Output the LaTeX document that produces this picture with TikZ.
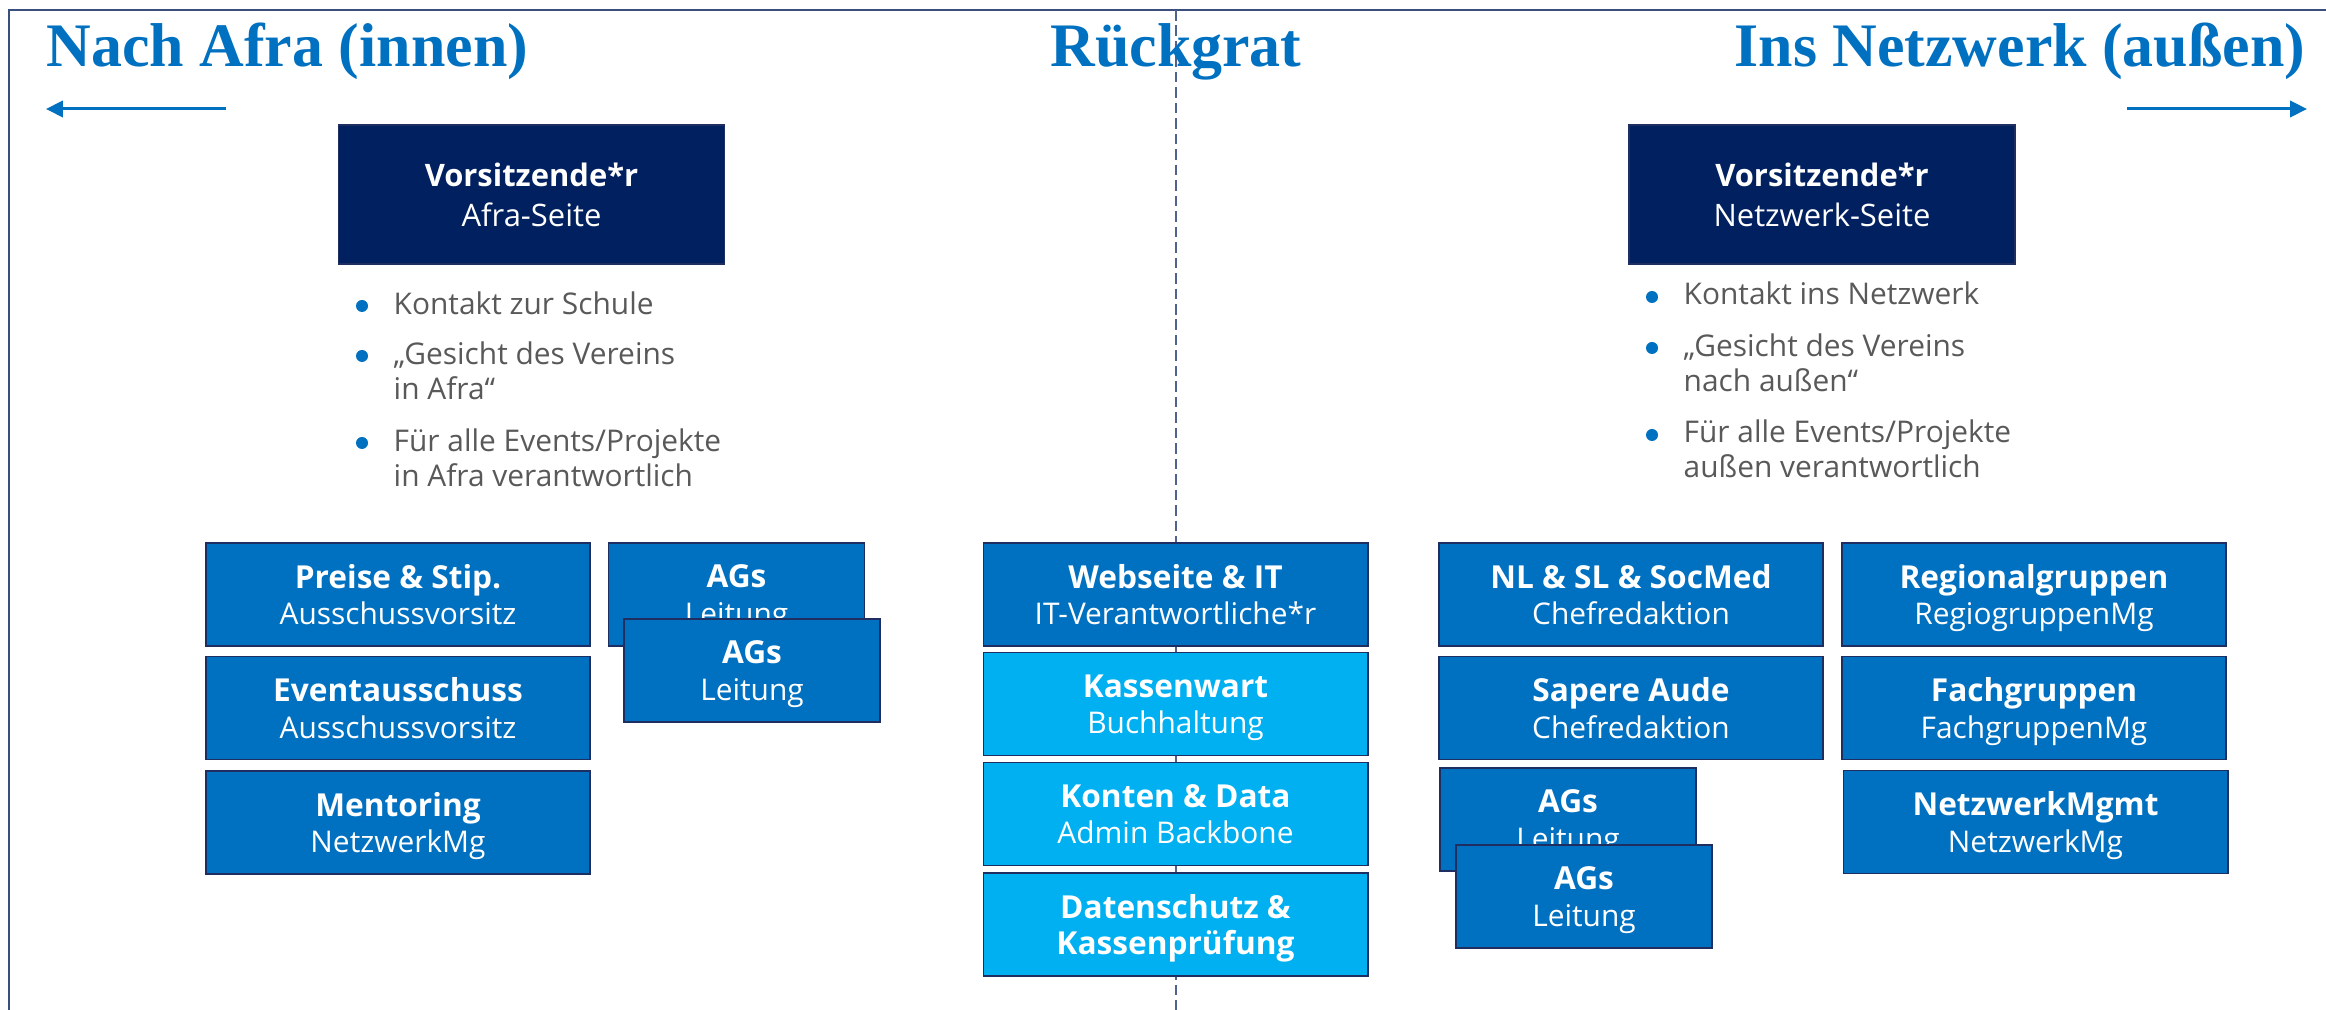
\documentclass[tikz,border=0pt]{standalone}
\usepackage{fontspec}
\setmainfont{Open Sans}
\newfontfamily\headfont{Liberation Serif}
\usetikzlibrary{arrows.meta}
\definecolor{navy}{RGB}{0,32,96}
\definecolor{midblue}{RGB}{0,112,192}
\definecolor{skyblue}{RGB}{0,176,240}
\definecolor{edgeblue}{RGB}{30,46,96}
\definecolor{framecol}{RGB}{58,78,128}
\definecolor{spinecol}{RGB}{80,99,143}
\definecolor{bulletgray}{RGB}{89,89,89}
\newcommand{\rolehead}[1]{{\fontsize{9}{10.4}\selectfont\bfseries #1}}
\tikzset{
  rolebox/.style    = {draw=edgeblue,line width=0.5pt,fill=midblue,text=white,align=center,
                       minimum width=3.84cm,minimum height=1.03cm,inner sep=0pt,text depth=0pt,
                       font=\fontsize{8.5}{10.4}\selectfont},
  backbox/.style    = {rolebox,fill=skyblue},
  agbox/.style      = {rolebox,minimum width=2.56cm},
  chairbox/.style   = {rolebox,fill=navy,minimum width=3.86cm,minimum height=1.39cm,
                       font=\fontsize{8.8}{11.4}\selectfont},
  heading/.style    = {font=\headfont\bfseries\fontsize{17.6}{20}\selectfont,text=midblue,inner sep=0pt},
  dirarr/.style     = {-{Triangle[length=4.8pt,width=4.6pt]},line width=0.85pt,midblue},
  spine/.style      = {spinecol,line width=0.6pt,dash pattern=on 3pt off 1.4pt},
  bulletdot/.style  = {circle,fill=midblue,minimum size=0.12cm,inner sep=0pt},
  bulletitem/.style = {anchor=base west,align=left,inner sep=0pt,text=bulletgray,
                       font=\fontsize{8.5}{10}\selectfont}
}

\begin{document}
\begin{tikzpicture}[x=0.01cm,y=-0.01cm]
  \useasboundingbox (0,0) rectangle (2326,1010);
  % --- frame (only top and left edge are in view) and the dashed spine
  \draw[framecol,line width=0.6pt] (9,1010) -- (9,10) -- (2326,10);
  \coordinate (spineTop) at (1176,10);
  \coordinate (spineBot) at (1176,1010);
  \draw[spine] (spineTop) -- (spineBot);
  % --- headings
  \node[heading,anchor=base west] (hdAfra)  at (46,67)   {Nach Afra (innen)};
  \node[heading,anchor=base]      (hdSpine) at (1176,67) {Rückgrat};
  \node[heading,anchor=base east] (hdNetz)  at (2306,67) {Ins Netzwerk (außen)};
  % --- direction arrows
  \coordinate (inTail)  at (226,109);
  \coordinate (inTip)   at (46,109);
  \coordinate (outTail) at (2127,109);
  \coordinate (outTip)  at (2307,109);
  \draw[dirarr] (inTail) -- (inTip);
  \draw[dirarr] (outTail) -- (outTip);
  % --- the two chairs
  \node[chairbox] (chairAfra) at (531.5,194.5) {\textbf{Vorsitzende*r}\\Afra-Seite};
  \node[chairbox] (chairNetz) at (1822,194.5)  {\textbf{Vorsitzende*r}\\Netzwerk-Seite};
  % --- bullet lists below the chairs (dot on first line, text set from last baseline)
  \foreach \n/\y/\yl/\txt in {1/315/315/{Kontakt zur Schule},
                              2/365/400/{„Gesicht des Vereins\\in Afra“},
                              3/452/487/{Für alle Events/Projekte\\in Afra verantwortlich}} {
    \node[bulletdot] (dotA\n) at (362,\y-9) {};
    \node[bulletitem] (itemA\n) at (393,\yl) {\txt};
  }
  \foreach \n/\y/\yl/\txt in {1/305/305/{Kontakt ins Netzwerk},
                              2/356/392/{„Gesicht des Vereins\\nach außen“},
                              3/443/478/{Für alle Events/Projekte\\außen verantwortlich}} {
    \node[bulletdot] (dotN\n) at (1652,\y-8) {};
    \node[bulletitem] (itemN\n) at (1683,\yl) {\txt};
  }
  % --- Afra side
  \foreach \nm/\y/\hd/\sub in {prize/594.5/{Preise \& Stip.}/Ausschussvorsitz,
                               event/708/Eventausschuss/Ausschussvorsitz,
                               mentor/822.5/Mentoring/NetzwerkMg}
    \node[rolebox] (\nm) at (398,\y) {\rolehead{\hd}\\\sub};
  \node[agbox] (agsAfraBack)  at (736.5,594.5) {\rolehead{AGs}\\Leitung};
  \node[agbox] (agsAfraFront) at (752,670.5)   {\rolehead{AGs}\\Leitung};
  % --- backbone column
  \node[rolebox] (web)   at (1175.5,594.5) {\rolehead{Webseite \& IT}\\IT-Verantwortliche*r};
  \node[backbox] (cash)  at (1175.5,704)   {\rolehead{Kassenwart}\\Buchhaltung};
  \node[backbox] (accts) at (1175.5,814)   {\rolehead{Konten \& Data}\\Admin Backbone};
  \node[backbox] (audit) at (1175.5,924.5) {\rolehead{Datenschutz \&}\\\rolehead{Kassenprüfung}};
  % --- network side
  \foreach \nm/\x/\y/\hd/\sub in {news/1631/594.5/{NL \& SL \& SocMed}/Chefredaktion,
                                  sapere/1631/708/{Sapere Aude}/Chefredaktion,
                                  regio/2034/594.5/Regionalgruppen/RegiogruppenMg,
                                  fach/2034/708/Fachgruppen/FachgruppenMg,
                                  netmgmt/2035.5/822/NetzwerkMgmt/NetzwerkMg}
    \node[rolebox] (\nm) at (\x,\y) {\rolehead{\hd}\\\sub};
  \node[agbox] (agsNetzBack)  at (1568,819.5) {\rolehead{AGs}\\Leitung};
  \node[agbox] (agsNetzFront) at (1584,896.5) {\rolehead{AGs}\\Leitung};
\end{tikzpicture}
\end{document}
